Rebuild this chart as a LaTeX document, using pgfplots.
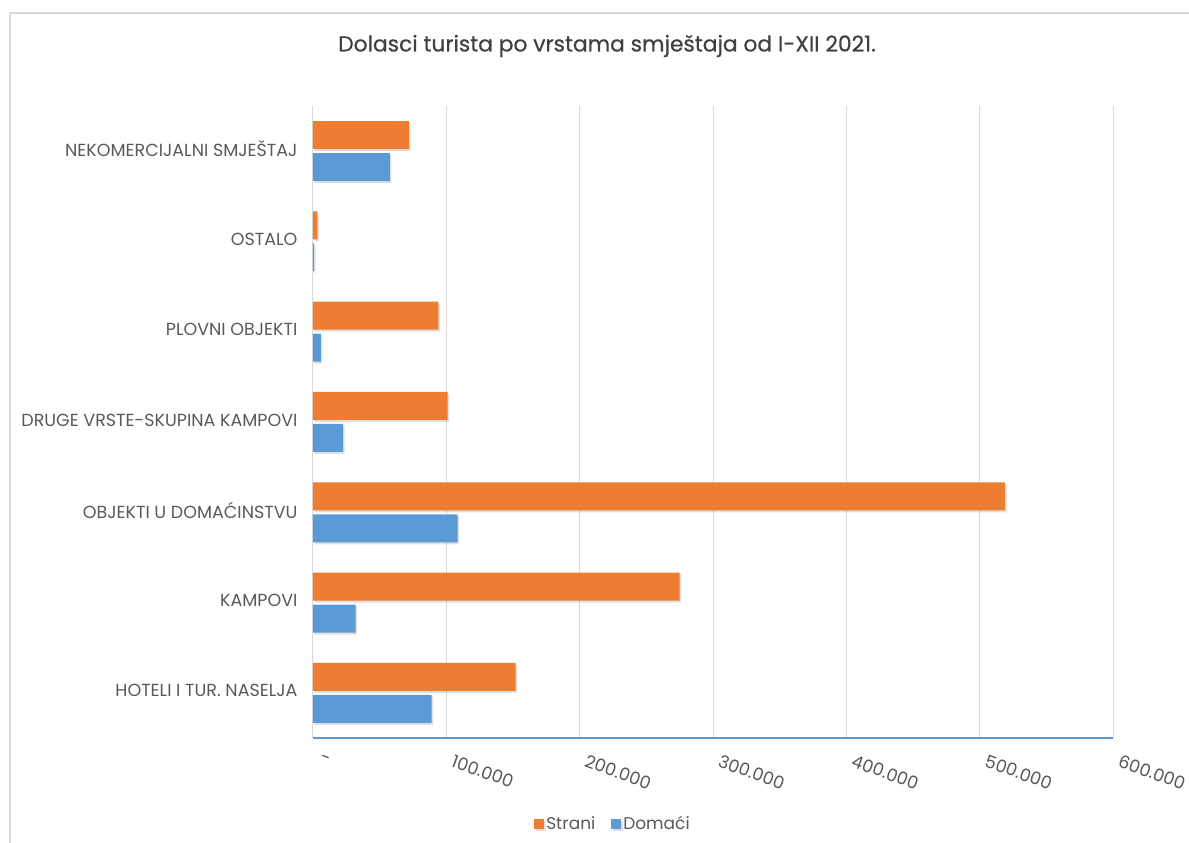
\documentclass[border=0pt]{standalone}
\usepackage{pgfplots}
\pgfplotsset{compat=1.18}
\usepackage{fontspec}
\setmainfont{Poppins}
\newfontfamily\titlefont[FakeBold=0.5]{Poppins}
\usetikzlibrary{shadows}
\definecolor{orng}{HTML}{ED7D31}
\definecolor{blu}{HTML}{5B9BD5}
\definecolor{txt}{HTML}{595959}
\definecolor{gridc}{HTML}{D9D9D9}
\begin{document}
\begin{tikzpicture}
\path[use as bounding box] (0pt,0pt) rectangle (1189pt,843pt);
\draw[gridc, line width=1.5pt] (10pt,-10pt) -- (10pt,830pt) -- (1200pt,830pt);
\node[text=black!75, font=\titlefont\fontsize{21.8}{25}\selectfont] at (607pt,797pt) {Dolasci turista po vrstama smještaja od I-XII 2021.};
\begin{axis}[
  at={(313pt,105pt)}, anchor=south west,
  scale only axis, width=800pt, height=632pt,
  xbar, bar width=28pt,
  xmin=0, xmax=600000,
  ymin=-0.5, ymax=6.5,
  ytick={0,...,6},
  yticklabels={HOTELI I TUR. NASELJA,KAMPOVI,OBJEKTI U DOMAĆINSTVU,DRUGE VRSTE-SKUPINA KAMPOVI,PLOVNI OBJEKTI,OSTALO,NEKOMERCIJALNI SMJEŠTAJ},
  yticklabel style={text=txt, font=\fontsize{17.5}{20}\selectfont, xshift=-12pt, yshift=2pt},
  scaled x ticks=false,
  xtick={0,100000,200000,300000,400000,500000,600000},
  xticklabels={-,100.000,200.000,300.000,400.000,500.000,600.000},
  xticklabel style={text=txt, font=\fontsize{17.5}{20}\selectfont, rotate=-20, anchor=north west, yshift=-9pt, xshift=10pt},
  xmajorgrids, major grid style={gridc, line width=1pt},
  major tick length=0pt,
  axis line style={draw=none},
  axis x line*=bottom, axis y line*=left,
  clip=false,
  legend columns=2,
  legend style={at={(0.375,-0.136)}, anchor=center, draw=none, fill=none,
    font=\fontsize{17}{19}\selectfont\color{txt},
    /tikz/every odd column/.append style={column sep=0pt},
    /tikz/every even column/.append style={column sep=14pt},
    /tikz/every node/.append style={inner sep=2pt}},
  legend image code/.code={\fill[#1] (0pt,-5pt) rectangle (10pt,5pt);},
]
\draw[gridc, line width=1pt] (axis cs:0,-0.5) -- (axis cs:0,6.5);
\draw[blu, line width=1.5pt] (axis cs:0,-0.5) -- (axis cs:600000,-0.5);
\addplot[bar shift=16pt, draw=none, fill=orng,
  drop shadow={shadow xshift=1.5pt, shadow yshift=-2pt, opacity=0.25}]
  coordinates {(152000,0) (275000,1) (519000,2) (101000,3) (94000,4) (3200,5) (72000,6)};
\addlegendentry{Strani}
\addplot[bar shift=-16pt, draw=none, fill=blu,
  drop shadow={shadow xshift=1.5pt, shadow yshift=-2pt, opacity=0.25}]
  coordinates {(89000,0) (32000,1) (108500,2) (22500,3) (6000,4) (800,5) (57700,6)};
\addlegendentry{Domaći}
\end{axis}
\end{tikzpicture}
\end{document}
